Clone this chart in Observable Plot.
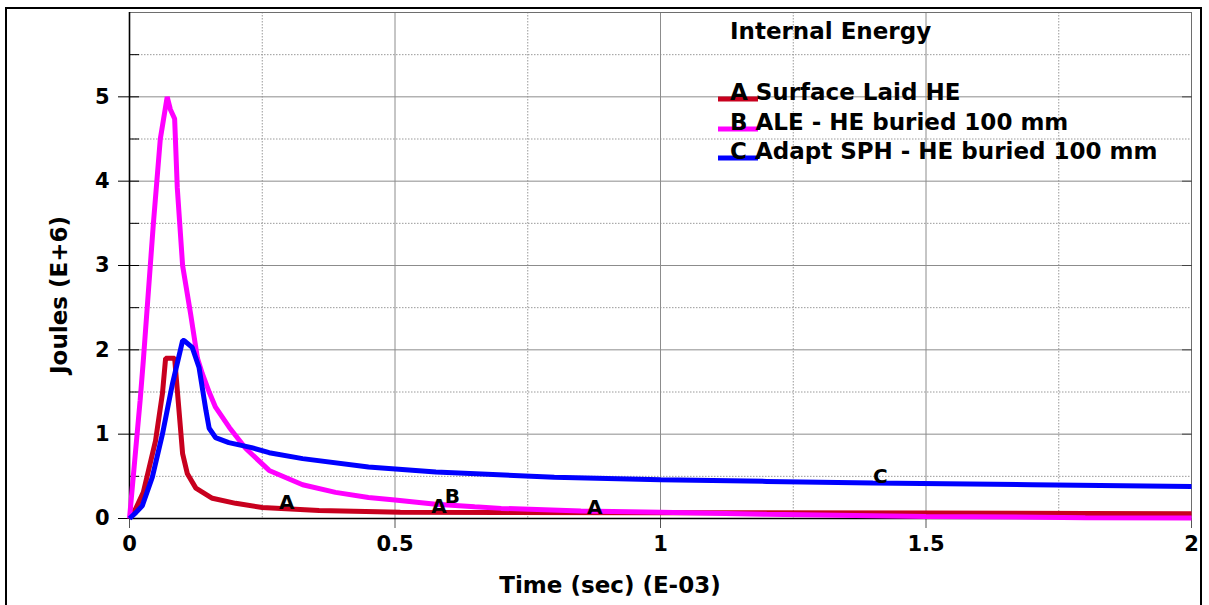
<!DOCTYPE html>
<html><head><meta charset="utf-8">
<script src="https://cdn.jsdelivr.net/npm/d3@7"></script>
<script src="https://cdn.jsdelivr.net/npm/@observablehq/plot@0.6"></script>
<style>
html,body{margin:0;padding:0;background:#fff;}
#wrap{position:relative;width:1209px;height:605px;overflow:hidden;}
#border{position:absolute;left:5px;top:7px;width:1193px;height:700px;border:2px solid #000;}
#wrap svg{position:absolute;left:0;top:0;}
</style></head><body><div id="wrap"><div id="border"></div></div>
<script>
// Internal energy (Joules E+6) vs time (sec E-03)
const tA = [0, 0.012, 0.026, 0.049, 0.062, 0.068, 0.085, 0.1, 0.109, 0.125, 0.156, 0.2, 0.25, 0.357, 0.51, 0.7, 1.0, 1.5, 1.8, 2.0];
const vA = [0, 0.12, 0.31, 0.92, 1.48, 1.9, 1.9, 0.77, 0.53, 0.36, 0.24, 0.18, 0.13, 0.095, 0.075, 0.07, 0.068, 0.065, 0.06, 0.055];

const tB = [0, 0.01, 0.02, 0.026, 0.045, 0.058, 0.071, 0.077, 0.085, 0.09, 0.1, 0.115, 0.128, 0.137, 0.15, 0.162, 0.188, 0.219, 0.263, 0.326, 0.388, 0.45, 0.5, 0.577, 0.65, 0.7, 0.85, 1.0, 1.2, 1.5, 1.8, 2.0];
const vB = [0, 0.7, 1.4, 1.87, 3.5, 4.5, 5.0, 4.85, 4.74, 3.92, 3.0, 2.43, 1.9, 1.72, 1.5, 1.32, 1.08, 0.83, 0.57, 0.4, 0.31, 0.25, 0.22, 0.17, 0.14, 0.12, 0.09, 0.075, 0.05, 0.025, 0.01, 0.005];

const tC = [0, 0.012, 0.024, 0.043, 0.062, 0.081, 0.1, 0.103, 0.118, 0.131, 0.144, 0.15, 0.162, 0.187, 0.23, 0.263, 0.326, 0.45, 0.577, 0.8, 1.0, 1.2, 1.4, 1.7, 2.0];
const vC = [0, 0.07, 0.15, 0.49, 1.0, 1.6, 2.11, 2.11, 2.03, 1.79, 1.28, 1.07, 0.96, 0.9, 0.84, 0.78, 0.71, 0.61, 0.55, 0.49, 0.46, 0.44, 0.42, 0.4, 0.38];

const seriesKeys = ["A", "B", "C"];
const seriesNames = ["A Surface Laid HE", "B ALE - HE buried 100 mm", "C Adapt SPH - HE buried 100 mm"];
const seriesColors = ["#c8001e", "#ff00ff", "#0000ff"];

const labelKeys = ["A", "A", "A", "B", "C"];
const labelT = [0.296, 0.583, 0.876, 0.608, 1.414];
const labelV = [0.11, 0.065, 0.055, 0.185, 0.42];

const xTicks = [0, 0.5, 1, 1.5, 2];
const xMinor = [0.25, 0.75, 1.25, 1.75];
const xGrid = [0.5, 1, 1.5];
const yTicks = [0, 1, 2, 3, 4, 5];
const yGrid = [1, 2, 3, 4, 5];
const yMinor = [0.5, 1.5, 2.5, 3.5, 4.5, 5.5];
const yAllTicks = [0, 0.5, 1, 1.5, 2, 2.5, 3, 3.5, 4, 4.5, 5, 5.5];

const title = "Internal Energy";
const xTitle = "Time (sec) (E-03)";
const yTitle = "Joules (E+6)";

const rows = [];
[[tA, vA], [tB, vB], [tC, vC]].forEach(([ts, vs], i) => {
  ts.forEach((t, j) => rows.push({t, v: vs[j], s: seriesKeys[i]}));
});
const labels = labelKeys.map((k, i) => ({k, t: labelT[i], v: labelV[i]}));

const FONT = "DejaVu Sans";
const plot = Plot.plot({
  width: 1209, height: 605,
  marginLeft: 129, marginRight: 18, marginTop: 12, marginBottom: 87,
  x: {domain: [0, 2]},
  y: {domain: [0, 6]},
  color: {domain: seriesKeys, range: seriesColors},
  style: {fontFamily: FONT, fontWeight: "bold", fontSize: "21px", color: "#000", background: "transparent", overflow: "visible"},
  marks: [
    Plot.gridY(yMinor, {stroke: "#999", strokeOpacity: 1, strokeDasharray: "1.5,1.5"}),
    Plot.gridX(xMinor, {stroke: "#999", strokeOpacity: 1, strokeDasharray: "1.5,1.5"}),
    Plot.gridY(yGrid, {stroke: "#8c8c8c", strokeOpacity: 1}),
    Plot.gridX(xGrid, {stroke: "#8c8c8c", strokeOpacity: 1}),
    Plot.frame({stroke: "#6e6e6e"}),
    Plot.axisY(yTicks, {tickSize: 11, tickPadding: 9, label: null, tickFormat: d => String(d), fontSize: 21}),
    Plot.axisY(yAllTicks, {tickSize: 10, dx: 10, label: null, tickFormat: () => ""}),
    Plot.axisY(yTicks, {anchor: "right", tickSize: 10, dx: -10, label: null, tickFormat: () => "", stroke: "#444"}),
    Plot.axisX(xTicks, {tickSize: 10, tickPadding: 8, label: null, tickFormat: d => String(d), fontSize: 21, stroke: "#555"}),
    Plot.ruleX([0], {stroke: "#000", strokeWidth: 1.6}),
    Plot.ruleY([0], {stroke: "#000", strokeWidth: 1.6}),
    Plot.line(rows, {x: "t", y: "v", z: "s", stroke: "s", strokeWidth: 5, strokeLinejoin: "miter", strokeLinecap: "butt"}),
    Plot.text(labels, {x: "t", y: "v", text: "k", lineAnchor: "bottom", fontSize: 20, fontWeight: "bold", fill: "#000", className: "curve-labels"})
  ]
});
document.getElementById("wrap").appendChild(plot);

const svg = d3.select(plot);
svg.selectAll(".curve-labels").style("font-size", "20px").style("font-family", FONT).style("font-weight", "bold");
// axis titles
svg.append("text").attr("x", 610).attr("y", 593).attr("text-anchor", "middle")
  .attr("font-family", FONT).attr("font-weight", "bold").attr("font-size", 23).attr("fill", "#000").text(xTitle);
svg.append("text").attr("transform", "translate(67,295) rotate(-90)").attr("text-anchor", "middle")
  .attr("font-family", FONT).attr("font-weight", "bold").attr("font-size", 23).attr("fill", "#000").text(yTitle);
// legend
const lg = svg.append("g").attr("font-family", FONT).attr("font-weight", "bold").attr("font-size", 23)
  .attr("fill", "#000").attr("text-anchor", "start");
lg.append("text").attr("x", 730).attr("y", 39).text(title);
const baseY = [100, 130, 159];
seriesNames.forEach((n, i) => {
  lg.append("line").attr("x1", 718).attr("x2", 758).attr("y1", baseY[i] - 1).attr("y2", baseY[i] - 1)
    .attr("stroke", seriesColors[i]).attr("stroke-width", 5);
  lg.append("text").attr("x", 730).attr("y", baseY[i]).text(n);
});
</script></body></html>
